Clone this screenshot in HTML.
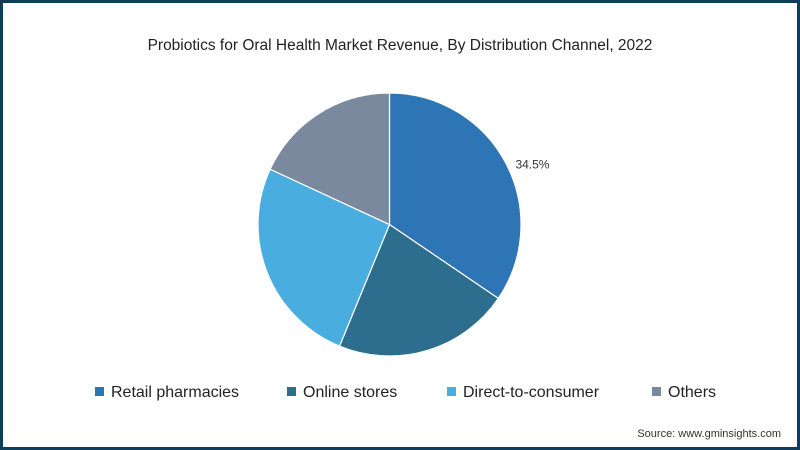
<!DOCTYPE html>
<html><head><meta charset="utf-8"><style>
body{margin:0;width:800px;height:450px;overflow:hidden;background:#fff;font-family:"Liberation Sans",sans-serif}
#frame{position:absolute;left:0;top:0;width:794px;height:444px;border:3px solid #0f3e58;background:#fff}
</style></head><body>
<div id="frame"></div>
<svg width="800" height="450" style="position:absolute;left:0;top:0">
<text x="400" y="50" text-anchor="middle" font-size="15.5" fill="#222">Probiotics for Oral Health Market Revenue, By Distribution Channel, 2022</text>
<g id="pie"></g>
<g id="legend"></g>
<text x="781" y="437" text-anchor="end" font-size="11" fill="#333">Source: www.gminsights.com</text>
</svg>
<script>
const categories=["Retail pharmacies","Online stores","Direct-to-consumer","Others"];
const values=[34.5,21.7,25.7,18.1];
const colors=["#2e75b6","#2d6e8f","#49ade0","#7a899d"];
const labels=["34.5%","","",""];
const cx=389.5,cy=224.5,r=131.5;
const ns="http://www.w3.org/2000/svg";
const pie=document.getElementById('pie');
const total=values.reduce((a,b)=>a+b,0);
function pt(a,rr){return [cx+rr*Math.sin(a),cy-rr*Math.cos(a)];}
let a0=0;
values.forEach((v,i)=>{
  const a1=a0+v/total*2*Math.PI;
  const p0=pt(a0,r),p1=pt(a1,r);
  const large=(a1-a0)>Math.PI?1:0;
  const p=document.createElementNS(ns,'path');
  p.setAttribute('d',`M${cx},${cy}L${p0[0]},${p0[1]}A${r},${r} 0 ${large} 1 ${p1[0]},${p1[1]}Z`);
  p.setAttribute('fill',colors[i]);p.setAttribute('stroke','#fff');p.setAttribute('stroke-width','1.2');
  
  
  pie.appendChild(p);
  if(labels[i]){
    const am=(a0+a1)/2+0.08;const lp=pt(am,r+22);
    const t=document.createElementNS(ns,'text');
    t.setAttribute('x',lp[0]-15);t.setAttribute('y',lp[1]+5);t.setAttribute('font-size','12');t.setAttribute('fill','#333');
    t.textContent=labels[i];
    
    
    pie.appendChild(t);
  }
  a0=a1;
});
const lg=document.getElementById('legend');
const lx=[95,287,447,652];
categories.forEach((c,i)=>{
  const rc=document.createElementNS(ns,'rect');
  rc.setAttribute('x',lx[i]);rc.setAttribute('y',387);rc.setAttribute('width',9);rc.setAttribute('height',9);rc.setAttribute('fill',colors[i]);
  
  
  lg.appendChild(rc);
  const t=document.createElementNS(ns,'text');
  t.setAttribute('x',lx[i]+16);t.setAttribute('y',397);t.setAttribute('font-size','16');t.setAttribute('fill','#222');
  t.textContent=c;
  
  
  lg.appendChild(t);
});
</script>
</body></html>
